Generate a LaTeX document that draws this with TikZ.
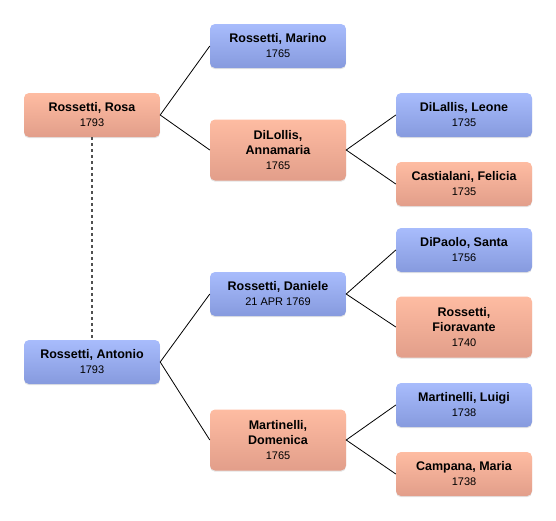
\documentclass[tikz,border=0pt]{standalone}
\usepackage{fontspec}
\setmainfont{Liberation Sans}
\usetikzlibrary{shadows}

\definecolor{maleTop}{RGB}{168,188,252}
\definecolor{maleBot}{RGB}{134,154,222}
\definecolor{femaleTop}{RGB}{254,188,162}
\definecolor{femaleBot}{RGB}{226,158,138}
\definecolor{linkGray}{RGB}{80,80,80}

\tikzset{
  person/.style={rounded corners=5pt, minimum width=136pt, minimum height=44pt,
    align=center, inner sep=2pt, text=black,
    font=\fontsize{12.5}{15}\selectfont\bfseries,
    drop shadow={opacity=0.22, shadow xshift=0pt, shadow yshift=-1.2pt}},
  male/.style={person, top color=maleTop, bottom color=maleBot},
  female/.style={person, top color=femaleTop, bottom color=femaleBot},
  tall/.style={minimum height=61pt},
  link/.style={black, line width=0.8pt},
  spouse/.style={linkGray, line width=1.5pt, dash pattern=on 3pt off 3pt},
}
\newcommand{\born}[1]{\\{\mdseries\fontsize{11}{13}\selectfont #1}}

\begin{document}
\begin{tikzpicture}[x=1pt,y=-1pt]
    \useasboundingbox (0,0) rectangle (556,520);

    % the couple
    \node[female] (rosa) at (92,115) {Rossetti, Rosa\born{1793}};
    \node[male] (antonio) at (92,362) {Rossetti, Antonio\born{1793}};

    % parents
    \node[male] (marino) at (278,46) {Rossetti, Marino\born{1765}};
    \node[female, tall] (annamaria) at (278,150) {DiLollis,\\Annamaria\born{1765}};
    \node[male] (daniele) at (278,294) {Rossetti, Daniele\born{21 APR 1769}};
    \node[female, tall] (domenica) at (278,440) {Martinelli,\\Domenica\born{1765}};

    % grandparents
    \node[male] (leone) at (464,115) {DiLallis, Leone\born{1735}};
    \node[female] (felicia) at (464,184) {Castialani, Felicia\born{1735}};
    \node[male] (santa) at (464,250) {DiPaolo, Santa\born{1756}};
    \node[female, tall] (fioravante) at (464,327) {Rossetti,\\Fioravante\born{1740}};
    \node[male] (luigi) at (464,405) {Martinelli, Luigi\born{1738}};
    \node[female] (maria) at (464,474) {Campana, Maria\born{1738}};

    % marriage
    \draw[spouse] (rosa.south) -- (antonio.north);

    % descent lines
    \draw[link] (marino.west) -- (rosa.east) -- (annamaria.west);
    \draw[link] (daniele.west) -- (antonio.east) -- (domenica.west);
    \draw[link] (leone.west) -- (annamaria.east) -- (felicia.west);
    \draw[link] (santa.west) -- (daniele.east) -- (fioravante.west);
    \draw[link] (luigi.west) -- (domenica.east) -- (maria.west);

\end{tikzpicture}
\end{document}
